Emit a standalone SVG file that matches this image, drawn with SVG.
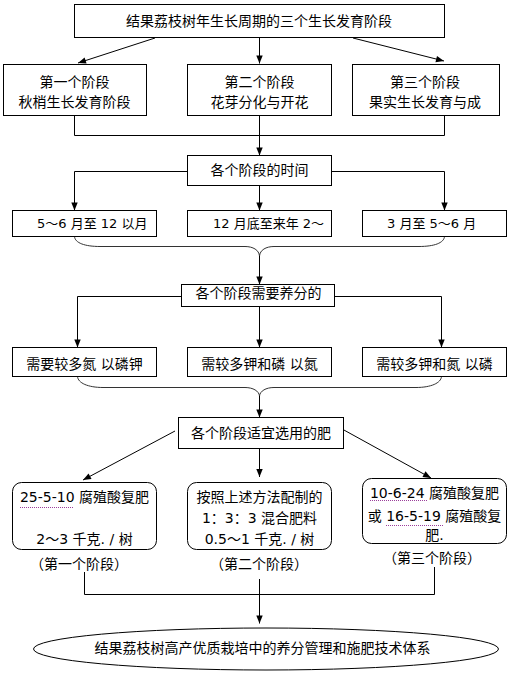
<svg xmlns="http://www.w3.org/2000/svg" width="509" height="673" viewBox="0 0 509 673">
<style>
.bx{fill:#fff;stroke:#000;stroke-width:1}
.t{font-family:"DejaVu Sans","Noto Sans CJK SC",sans-serif;font-size:14px;fill:#000;text-anchor:middle}
.ts{font-family:"DejaVu Sans","Noto Sans CJK SC",sans-serif;font-size:13px;fill:#000;text-anchor:start}
.ln{fill:none;stroke:#000;stroke-width:1}
.ar{fill:none;stroke:#000;stroke-width:1;marker-end:url(#ah)}
.br{fill:none;stroke:#333;stroke-width:1}
.ul{stroke:#9b3f9b;stroke-width:1;stroke-dasharray:1 1}
</style>
<defs>
<marker id="ah" viewBox="0 0 10 10" refX="10" refY="5" markerWidth="9" markerHeight="8" markerUnits="userSpaceOnUse" orient="auto">
<path d="M0,1 L10,5 L0,9 z" fill="#000"/>
</marker>
</defs>
<rect width="509" height="673" fill="#fff"/>

<g id="connectors">
<path class="ar" d="M155,38 L78,63"/>
<path class="ar" d="M259.5,38 V63.5"/>
<path class="ar" d="M353,38 L444,61"/>
<path class="ln" d="M74.5,115.5 V135.5 H444.5 V115.5"/>
<path class="ln" d="M259.5,115.5 V135.5"/>
<path class="ar" d="M259.5,135.5 V155.5"/>
<path class="ar" d="M187.5,171.5 H74.5 V210.5"/>
<path class="ar" d="M331.5,171.5 H444.5 V210.5"/>
<path class="ar" d="M259.5,185.5 V210.5"/>
<path class="br" d="M74.5,236.5 C75,243 85,246.5 100,246.5 H245 C253,246.5 259,250 259.5,256 C260,250 266,246.5 274,246.5 H419 C434,246.5 444,243 444.5,236.5"/>
<path class="ar" d="M259.5,256 V284.5"/>
<path class="ar" d="M181.5,296.5 H77.5 V347.5"/>
<path class="ar" d="M334.5,296.5 H441.5 V347.5"/>
<path class="ar" d="M259.5,306.5 V347.5"/>
<path class="br" d="M77.5,376.5 C78,383 88,387.5 103,387.5 H245 C253,387.5 259,391 259.5,396 C260,391 266,387.5 274,387.5 H416 C431,387.5 441,383 441.5,376.5"/>
<path class="ar" d="M259.5,396 V417.5"/>
<path class="ar" d="M175,431 L83,480"/>
<path class="ar" d="M259.5,448.5 V477"/>
<path class="ar" d="M343,429.5 L431,478"/>
<path class="ln" d="M84.5,572 V594.5 H434.5 V567"/>
<path class="ar" d="M259.5,579 V623.5"/>
</g>

<g id="n-title">
<rect class="bx" x="74.5" y="4.5" width="370" height="33"/>
<text class="t" x="259" y="26">结果荔枝树年生长周期的三个生长发育阶段</text>
</g>

<g id="n-stage1">
<rect class="bx" x="3.5" y="64.5" width="143" height="51"/>
<text class="t" x="74.5" y="87">第一个阶段</text>
<text class="t" x="74.5" y="107">秋梢生长发育阶段</text>
</g>
<g id="n-stage2">
<rect class="bx" x="187.5" y="64.5" width="144" height="51"/>
<text class="t" x="259.5" y="87">第二个阶段</text>
<text class="t" x="259.5" y="107">花芽分化与开花</text>
</g>
<g id="n-stage3">
<rect class="bx" x="352.5" y="64.5" width="147" height="51"/>
<text class="t" x="425" y="87">第三个阶段</text>
<text class="t" x="425" y="107">果实生长发育与成</text>
</g>

<g id="n-time">
<rect class="bx" x="187.5" y="155.5" width="144" height="30"/>
<text class="t" x="259.5" y="175">各个阶段的时间</text>
</g>
<g id="n-time1">
<rect class="bx" x="12.5" y="210.5" width="144" height="26"/>
<text class="ts" x="37" y="228">5～6 月至 12 以月</text>
</g>
<g id="n-time2">
<rect class="bx" x="187.5" y="210.5" width="144" height="26"/>
<text class="ts" x="213" y="228">12 月底至来年 2～</text>
</g>
<g id="n-time3">
<rect class="bx" x="362.5" y="210.5" width="144" height="26"/>
<text class="ts" x="387" y="228">3 月至 5～6 月</text>
</g>

<g id="n-nutr">
<rect class="bx" x="181.5" y="284.5" width="153" height="22"/>
<text class="t" x="258.5" y="298">各个阶段需要养分的</text>
</g>
<g id="n-nutr1">
<rect class="bx" x="12.5" y="347.5" width="144" height="29"/>
<text class="t" x="84.5" y="369">需要较多氮 以磷钾</text>
</g>
<g id="n-nutr2">
<rect class="bx" x="187.5" y="347.5" width="144" height="29"/>
<text class="t" x="259.5" y="369">需较多钾和磷 以氮</text>
</g>
<g id="n-nutr3">
<rect class="bx" x="362.5" y="347.5" width="144" height="29"/>
<text class="t" x="434.5" y="369">需较多钾和氮 以磷</text>
</g>

<g id="n-fert">
<rect class="bx" x="178.5" y="417.5" width="165" height="31"/>
<text class="t" x="261" y="438">各个阶段适宜选用的肥</text>
</g>
<g id="n-fert1">
<rect class="bx" x="12.5" y="482.5" width="144" height="67" rx="9"/>
<text class="t" x="84.5" y="502">25-5-10 腐殖酸复肥</text>
<line class="ul" x1="20" y1="507.5" x2="74" y2="507.5"/>
<text class="t" x="84.5" y="544">2～3 千克. / 树</text>
</g>
<g id="n-fert2">
<rect class="bx" x="187.5" y="482.5" width="144" height="67" rx="9"/>
<text class="t" x="259.5" y="502">按照上述方法配制的</text>
<text class="t" x="259.5" y="523">1：3：3 混合肥料</text>
<text class="t" x="259.5" y="544">0.5～1 千克. / 树</text>
</g>
<g id="n-fert3">
<rect class="bx" x="362.5" y="478.5" width="144" height="65" rx="9"/>
<text class="t" x="434.5" y="498">10-6-24 腐殖酸复肥</text>
<line class="ul" x1="370" y1="500.5" x2="428" y2="500.5"/>
<text class="t" x="434.5" y="521">或 16-5-19 腐殖酸复</text>
<line class="ul" x1="386" y1="525.5" x2="444" y2="525.5"/>
<text class="t" x="434.5" y="540">肥.</text>
</g>

<g id="n-label1"><text class="t" x="79" y="569">（第一个阶段）</text></g>
<g id="n-label2"><text class="t" x="259" y="569">（第二个阶段）</text></g>
<g id="n-label3"><text class="t" x="432" y="563">（第三个阶段）</text></g>

<g id="n-result">
<ellipse class="bx" cx="266" cy="649" rx="232.5" ry="21"/>
<text class="t" x="262.5" y="653">结果荔枝树高产优质栽培中的养分管理和施肥技术体系</text>
</g>
</svg>
